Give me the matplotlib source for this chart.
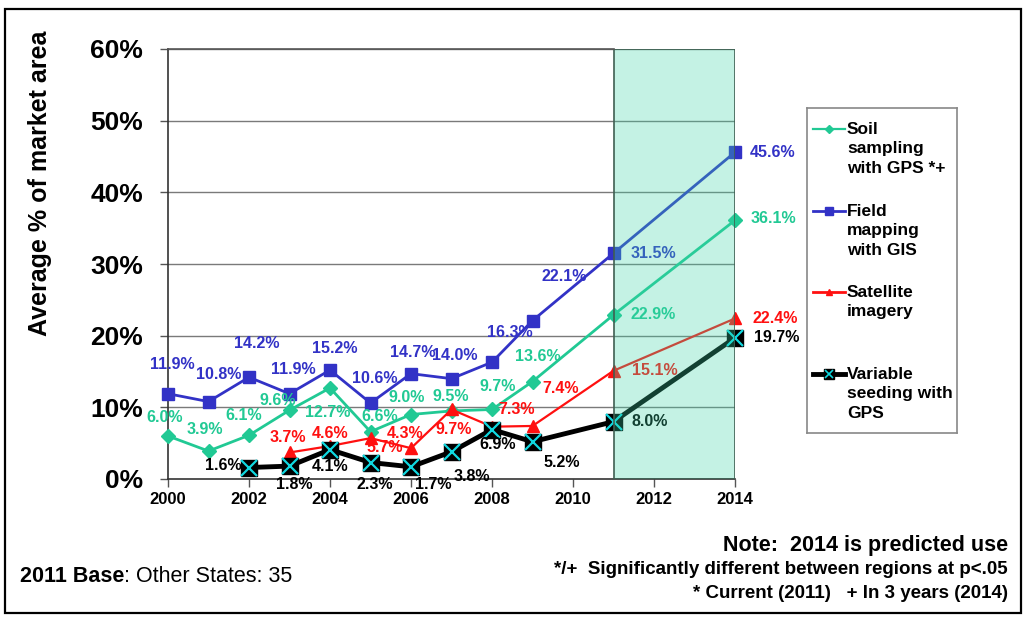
import matplotlib
matplotlib.use("Agg")
import matplotlib.pyplot as plt
from matplotlib.patches import Rectangle

plt.rcParams['font.family'] = ['Liberation Sans', 'DejaVu Sans']

# ---------------- data ----------------
soil_years = [2000, 2001, 2002, 2003, 2004, 2005, 2006, 2007, 2008, 2009, 2011, 2014]
soil_vals = [6.0, 3.9, 6.1, 9.6, 12.7, 6.6, 9.0, 9.5, 9.7, 13.6, 22.9, 36.1]

field_years = [2000, 2001, 2002, 2003, 2004, 2005, 2006, 2007, 2008, 2009, 2011, 2014]
field_vals = [11.9, 10.8, 14.2, 11.9, 15.2, 10.6, 14.7, 14.0, 16.3, 22.1, 31.5, 45.6]

sat_years = [2003, 2004, 2005, 2006, 2007, 2008, 2009, 2011, 2014]
sat_vals = [3.7, 4.6, 5.7, 4.3, 9.7, 7.3, 7.4, 15.1, 22.4]

var_years = [2002, 2003, 2004, 2005, 2006, 2007, 2008, 2009, 2011, 2014]
var_vals = [1.6, 1.8, 4.1, 2.3, 1.7, 3.8, 6.9, 5.2, 8.0, 19.7]

legend_labels = ["Soil\nsampling\nwith GPS *+", "Field\nmapping\nwith GIS",
                 "Satellite\nimagery", "Variable\nseeding with\nGPS"]
x_ticks = [2000, 2002, 2004, 2006, 2008, 2010, 2012, 2014]
y_ticks = [0, 10, 20, 30, 40, 50, 60]

# label offsets (pixels) - styling only
soil_off = [(-3, 18), (-4, 22), (-5, 20), (-12, 10), (-2, -25), (9, 15), (-4, 17), (-1, 14), (6, 23), (5, 25), (40, 0), (38, 2)]
field_off = [(4, 29), (10, 27), (8, 34), (4, 24), (5, 22), (4, 25), (2, 21), (3, 23), (18, 30), (32, 44), (40, 0), (38, 0)]
sat_off = [(-2, 15), (0, 13), (14, -9), (-6, 15), (2, -20), (25, 17), (28, 37), (41, 0), (40, 0)]
var_off = [(-26, 2), (5, -18), (0, -17), (4, -22), (22, -18), (20, -25), (6, -15), (29, -21), (36, 0), (42, 0)]

GREEN = "#21C994"
BLUE = "#3232C6"
RED = "#FF1010"
BLACK = "#000000"
CYAN = "#10D8E0"

W, H = 1027, 617
fig = plt.figure(figsize=(W / 100, H / 100), dpi=100)
fig.patch.set_facecolor("white")

# outer frame
fig.add_artist(Rectangle((5 / W, 1 - 613 / H), 1016 / W, 604 / H, transform=fig.transFigure,
                         fill=False, edgecolor="black", linewidth=1.6))

left, right, top, bottom = 168, 735, 49, 479
ax = fig.add_axes([left / W, 1 - bottom / H, (right - left) / W, (bottom - top) / H])
ax.set_xlim(2000, 2014)
ax.set_ylim(0, 60)

for yv in y_ticks[1:]:
    ax.axhline(yv, color="#7a7a7a", linewidth=1.0, zorder=1)

for s in ["top", "right"]:
    ax.spines[s].set_visible(False)
ax.spines["left"].set_color("#333333")
ax.spines["bottom"].set_color("#333333")
ax.spines["left"].set_linewidth(1.2)
ax.spines["bottom"].set_linewidth(1.2)

ax.set_xticks(x_ticks)
ax.set_xticklabels([str(t) for t in x_ticks], fontsize=12, fontweight="bold")
ax.set_yticks(y_ticks)
ax.set_yticklabels([f"{t}%" for t in y_ticks], fontsize=19, fontweight="bold")
ax.tick_params(axis="x", direction="out", length=6, width=1, color="#555555", pad=3)
ax.tick_params(axis="y", direction="out", length=6, width=1, color="#555555", pad=12)

ax.set_ylabel("Average % of market area", fontsize=18, fontweight="bold")
ax.yaxis.set_label_coords(-0.205, 0.688)

# series
ax.plot(soil_years, soil_vals, color=GREEN, lw=2, marker="D", ms=7, zorder=4, clip_on=False)
ax.plot(field_years, field_vals, color=BLUE, lw=2, marker="s", ms=9, zorder=4, clip_on=False)
ax.plot(sat_years, sat_vals, color=RED, lw=1.6, marker="^", ms=9, zorder=4, clip_on=False)
ax.plot(var_years, var_vals, color=BLACK, lw=3.5, marker="s", ms=12, zorder=5, clip_on=False)
ax.plot(var_years, var_vals, ls="none", marker="x", ms=11, mew=1.6, color=CYAN, zorder=6, clip_on=False)


def labels(xs, vs, offs, color):
    for x, v, (dx, dy) in zip(xs, vs, offs):
        ax.annotate(f"{v:.1f}%", (x, v), xytext=(dx, dy), textcoords="offset pixels",
                    ha="center", va="center", fontsize=11.5, fontweight="bold", color=color,
                    zorder=7, annotation_clip=False)


labels(soil_years, soil_vals, soil_off, GREEN)
labels(field_years, field_vals, field_off, BLUE)
labels(sat_years, sat_vals, sat_off, RED)
labels(var_years, var_vals, var_off, BLACK)

# shaded forecast region (overlay)
ax.add_patch(Rectangle((2011, 0), 3, 60, facecolor="#3CD6A6", alpha=0.3, edgecolor="none", zorder=8))
ax.add_patch(Rectangle((2011, 0), 3, 60, facecolor="none", edgecolor="#3f5f52", lw=1.2, zorder=8))
ax.plot([2000, 2011], [60, 60], color="#555555", lw=1.2, zorder=8, clip_on=False)

# legend box
lx0, ly0, lx1, ly1 = 807, 108, 957, 433
lax = fig.add_axes([lx0 / W, 1 - ly1 / H, (lx1 - lx0) / W, (ly1 - ly0) / H])
lax.set_xlim(0, lx1 - lx0)
lax.set_ylim(ly1 - ly0, 0)
lax.set_xticks([])
lax.set_yticks([])
for s in lax.spines.values():
    s.set_color("#888888")
    s.set_linewidth(1.2)

handle_y = [21, 103, 184, 266]
styles = [
    dict(color=GREEN, lw=1.6, marker="D", ms=4),
    dict(color=BLUE, lw=2, marker="s", ms=6),
    dict(color=RED, lw=2, marker="^", ms=5),
    dict(color=BLACK, lw=3.5, marker="s", ms=7),
]
for yv, st, lab in zip(handle_y, styles, legend_labels):
    lax.plot([6, 22, 38], [yv, yv, yv], markevery=[1], **st)
    lax.text(40, yv - 7, lab, ha="left", va="top", fontsize=12.5, fontweight="bold",
             linespacing=1.36, color="black")
lax.plot([22], [handle_y[3]], ls="none", marker="x", ms=6, mew=1.2, color=CYAN)

# footer texts
t1 = fig.text(20 / W, 1 - 577 / H, "2011 Base", fontsize=15.5, fontweight="bold", va="center", ha="left")
ax.annotate(": Other States: 35", xy=(1, 0.5), xycoords=t1, va="center", ha="left", fontsize=15.5)

fig.text(1008 / W, 1 - 546 / H, "Note:  2014 is predicted use", fontsize=15.5, fontweight="bold",
         ha="right", va="center")
fig.text(1008 / W, 1 - 570 / H, "*/+  Significantly different between regions at p<.05", fontsize=13.5,
         fontweight="bold", ha="right", va="center")
fig.text(1008 / W, 1 - 593 / H, "* Current (2011)   + In 3 years (2014)", fontsize=13.5,
         fontweight="bold", ha="right", va="center")

fig.savefig("out.png", dpi=100, facecolor="white")
